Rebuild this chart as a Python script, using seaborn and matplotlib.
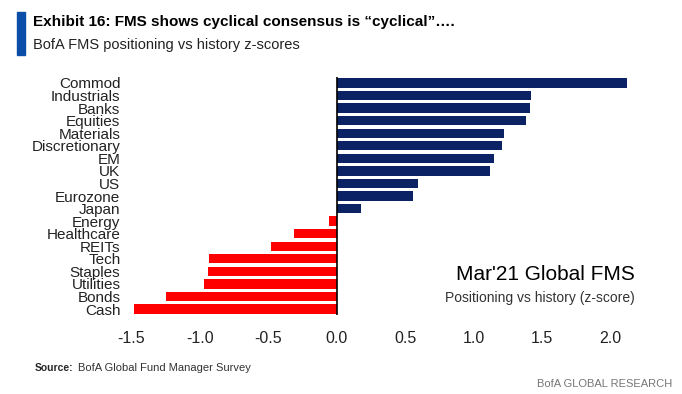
import matplotlib
matplotlib.use("Agg")
import matplotlib.pyplot as plt
import seaborn as sns
import pandas as pd
from matplotlib.patches import Rectangle

categories = ["Commod", "Industrials", "Banks", "Equities", "Materials", "Discretionary",
              "EM", "UK", "US", "Eurozone", "Japan", "Energy", "Healthcare", "REITs",
              "Tech", "Staples", "Utilities", "Bonds", "Cash"]
zscores = [2.12, 1.42, 1.41, 1.38, 1.22, 1.21, 1.15, 1.12, 0.59, 0.56, 0.18,
           -0.06, -0.31, -0.48, -0.93, -0.94, -0.97, -1.25, -1.48]
xticks = [-1.5, -1.0, -0.5, 0.0, 0.5, 1.0, 1.5, 2.0]

NAVY = "#0B2265"
RED = "#FF0000"

df = pd.DataFrame({"cat": categories, "z": zscores})
colors = [NAVY if v >= 0 else RED for v in zscores]

sns.set_style("white")
plt.rcParams["font.family"] = ["Liberation Sans", "DejaVu Sans"]

fig = plt.figure(figsize=(6.82, 3.94), dpi=100)
W, H = 682, 394
# axes placed in pixel terms
x0, x1 = 124.6, 638.0
y_top, y_bot = 76.7, 315.3
ax = fig.add_axes([x0 / W, 1 - y_bot / H, (x1 - x0) / W, (y_bot - y_top) / H])

sns.barplot(data=df, x="z", y="cat", hue="cat", palette=colors, legend=False,
            orient="h", width=0.74, ax=ax, saturation=1, linewidth=0)

ax.set_xlim(-1.55, 2.2)
ax.set_ylim(18.5, -0.5)
ax.axvline(0, color="black", lw=1.2)
for s in ax.spines.values():
    s.set_visible(False)
ax.set_xlabel("")
ax.set_ylabel("")
ax.set_xticks(xticks)
ax.set_xticklabels([f"{t:.1f}" for t in xticks], fontsize=11.5, color="#222222")
ax.tick_params(axis="both", length=0)
ax.tick_params(axis="y", pad=3)
ax.tick_params(axis="x", pad=11)
for lbl in ax.get_yticklabels():
    lbl.set_fontsize(11)
    lbl.set_color("#222222")

# title block
fig.patches.append(Rectangle((17 / W, 1 - 55 / H), 8 / W, 43 / H, transform=fig.transFigure,
                             color="#0A4EA8", figure=fig))
fig.text(33 / W, 1 - 22 / H, "Exhibit 16: FMS shows cyclical consensus is \u201ccyclical\u201d\u2026.",
         fontsize=11, fontweight="bold", va="center", color="black")
fig.text(33 / W, 1 - 45 / H, "BofA FMS positioning vs history z-scores",
         fontsize=10.5, va="center", color="#222222")

fig.text(635 / W, 1 - 274 / H, "Mar'21 Global FMS", fontsize=15, ha="right", va="center",
         color="black")
fig.text(635 / W, 1 - 298 / H, "Positioning vs history (z-score)", fontsize=10,
         ha="right", va="center", color="#333333")

fig.text(35 / W, 1 - 368 / H, "Source:", fontsize=7.5, fontweight="bold", va="center")
fig.text(78 / W, 1 - 368 / H, "BofA Global Fund Manager Survey", fontsize=8,
         va="center", color="#333333")
fig.text(672 / W, 1 - 384 / H, "BofA GLOBAL RESEARCH", fontsize=8, ha="right",
         va="center", color="#777777")

fig.savefig("out.png", dpi=100)
